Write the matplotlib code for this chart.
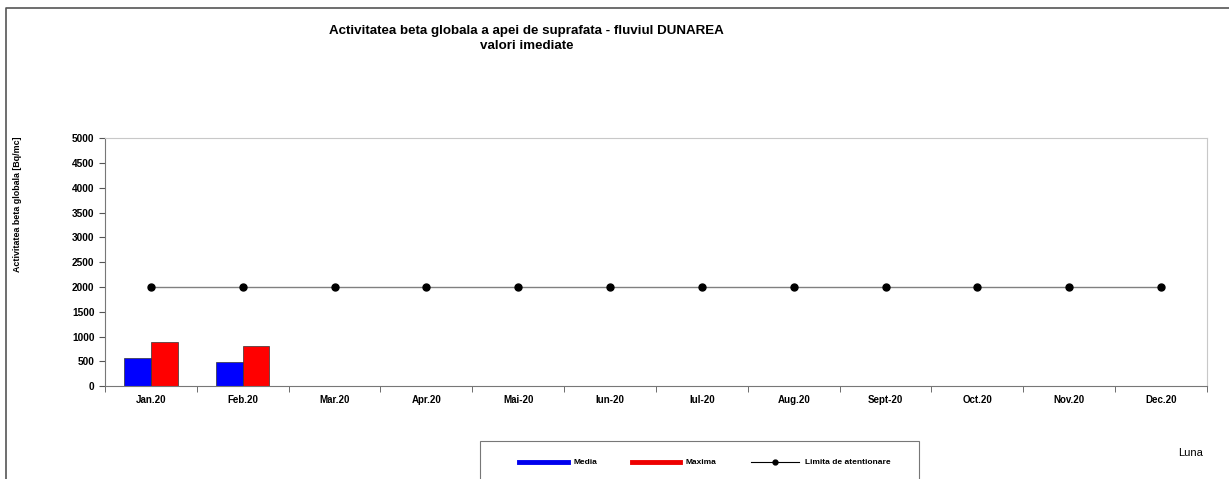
import matplotlib.pyplot as plt
from matplotlib.lines import Line2D
from matplotlib.patches import Rectangle
import numpy as np

months = ["Jan.20", "Feb.20", "Mar.20", "Apr.20", "Mai-20", "Iun-20",
          "Iul-20", "Aug.20", "Sept-20", "Oct.20", "Nov.20", "Dec.20"]
media = [565, 495]
maxima = [895, 815]
limita = [2000] * 12

plt.rcParams["font.family"] = ["Liberation Sans", "DejaVu Sans"]

fig = plt.figure(figsize=(12.29, 4.79), dpi=100)
ax = fig.add_axes([0.0854, 0.1937, 0.8967, 0.5180])

x = np.arange(len(months))
w = 0.29
ax.bar(x[:len(media)] - w / 2, media, w, color="#0000ff", edgecolor="#333333", linewidth=0.5, label="Media")
ax.bar(x[:len(maxima)] + w / 2, maxima, w, color="#ff0000", edgecolor="#333333", linewidth=0.5, label="Maxima")
ax.plot(x, limita, color="#808080", linewidth=1, marker="o", markersize=5,
        markerfacecolor="black", markeredgecolor="black", label="Limita de atentionare")

ax.set_xlim(-0.5, len(months) - 0.5)
ax.set_ylim(0, 5000)
ax.set_yticks(range(0, 5001, 500))
ax.set_xticks(x)
ax.set_xticklabels(months)
ax.set_xticks(np.arange(-0.5, len(months)), minor=True)
ax.tick_params(axis="x", which="major", length=0, pad=6, labelsize=7)
ax.tick_params(axis="x", which="minor", length=4, direction="out", color="#555555")
ax.tick_params(axis="y", length=4, direction="out", color="#555555", labelsize=7.3)
for lab in ax.get_xticklabels() + ax.get_yticklabels():
    lab.set_fontweight("bold")

ax.spines["left"].set_color("#777777")
ax.spines["bottom"].set_color("#777777")
ax.spines["top"].set_color("#c8c8c8")
ax.spines["right"].set_color("#c8c8c8")

ax.set_ylabel("Activitatea beta globala [Bq/mc]", fontsize=6.4, fontweight="bold", labelpad=0)
ax.yaxis.set_label_coords(-0.075, 0.735)

fig.text(0.4285, 0.920, "Activitatea beta globala a apei de suprafata - fluviul DUNAREA\nvalori imediate",
         ha="center", va="center", fontsize=9.6, fontweight="bold", linespacing=1.35)

fig.text(0.969, 0.054, "Luna", ha="center", va="center", fontsize=8)

# outer frame (left and top edges)
fig.add_artist(Line2D([0.005, 0.005, 1.0], [0.0, 0.983, 0.983], color="#555555", linewidth=1.2))

# legend box
fig.add_artist(Rectangle((480 / 1229, -0.05), 439 / 1229, 0.05 + 38 / 479,
                         facecolor="white", edgecolor="#777777", linewidth=0.8, transform=fig.transFigure))
handles = [Line2D([], [], color="#0000ee", linewidth=3.5),
           Line2D([], [], color="#ee0000", linewidth=3.5),
           Line2D([], [], color="black", linewidth=0.8, marker="o", markersize=3.5)]
fig.legend(handles, ["Media", "Maxima", "Limita de atentionare"], loc="center",
           bbox_to_anchor=(705 / 1229, 1 - 462.5 / 479), ncol=3, frameon=False, handlelength=5.8,
           handletextpad=0.7, columnspacing=4.1, prop={"size": 6, "weight": "bold"})

fig.savefig("out.png", dpi=100)
